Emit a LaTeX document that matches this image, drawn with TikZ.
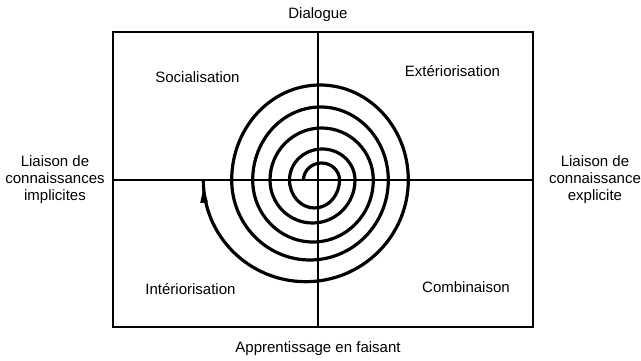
\documentclass[tikz,border=0pt]{standalone}
\usepackage{fontspec}
\setmainfont{Liberation Sans}
\begin{document}
\begin{tikzpicture}[x=1pt,y=1pt,
  lbl/.style={inner sep=0pt,font=\fontsize{15}{17}\selectfont},
  side/.style={lbl,align=center},
  frame/.style={line width=2pt},
  spiral/.style={line width=3.2pt,line join=round}]
\useasboundingbox (0,0) rectangle (641,361);
% frame and axes
\coordinate (bl) at (113.3,34.3);
\coordinate (tr) at (532.7,328.7);
\coordinate (top) at (317.5,328.7);
\coordinate (bot) at (317.5,34.3);
\coordinate (lft) at (113.3,181);
\coordinate (rgt) at (532.7,181);
\draw[frame] (bl) rectangle (tr);
\draw[frame] (top) -- (bot);
\draw[frame] (lft) -- (rgt);
% labels
\node[lbl,anchor=base] (dia) at (318,342.5) {Dialogue};
\node[lbl,anchor=base] (app) at (318,8) {Apprentissage en faisant};
\node[lbl,anchor=base] (soc) at (197.5,278.5) {Socialisation};
\node[lbl,anchor=base] (ext) at (452.5,284.3) {Extériorisation};
\node[lbl,anchor=base] (int) at (190.5,66) {Intériorisation};
\node[lbl,anchor=base] (com) at (466,68.3) {Combinaison};
\node[side] (li) at (55,181.5) {Liaison de\\connaissances\\implicites};
\node[side] (le) at (595,181.5) {Liaison de\\connaissance\\explicite};
% spiral
\coordinate (s0) at (303.5,181);
\draw[spiral] (s0)
  arc[start angle=180,end angle=0,x radius=18,y radius=17]
  arc[start angle=0,end angle=-180,x radius=25,y radius=28]
  arc[start angle=180,end angle=0,x radius=32.75,y radius=31]
  arc[start angle=0,end angle=-180,x radius=42.5,y radius=43]
  arc[start angle=180,end angle=0,x radius=51.65,y radius=52]
  arc[start angle=0,end angle=-180,x radius=60.3,y radius=62]
  arc[start angle=180,end angle=0,x radius=67.8,y radius=73]
  arc[start angle=0,end angle=-180,x radius=78.3,y radius=80]
  arc[start angle=180,end angle=0,x radius=88.3,y radius=95]
  arc[start angle=0,end angle=-180,x radius=102.5,y radius=101.7] coordinate (send);
% arrowhead
\coordinate (ah) at (203.6,174);
\fill (ah) -- (200.2,158) -- (208,158.6) -- cycle;
\end{tikzpicture}
\end{document}
